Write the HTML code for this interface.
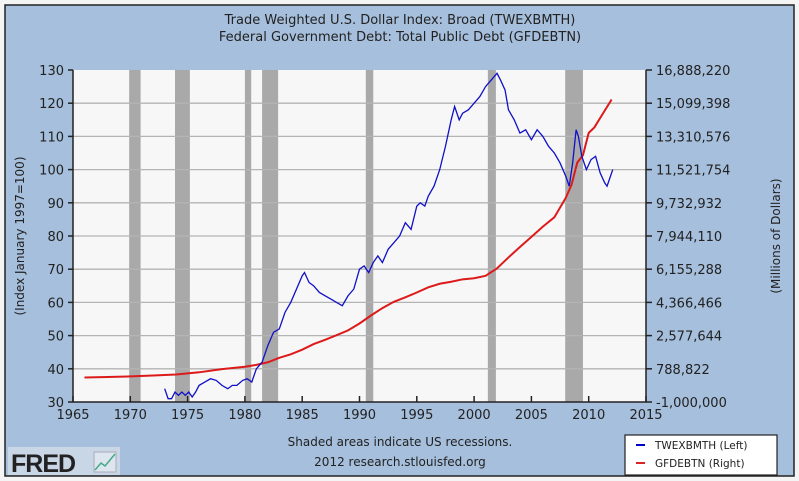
<!DOCTYPE html>
<html><head><meta charset="utf-8"><style>
body{margin:0;background:#fff;}
svg{display:block;font-family:"DejaVu Sans","Liberation Sans",sans-serif;}
</style></head><body>
<svg id="c" width="799" height="481" xmlns="http://www.w3.org/2000/svg">
<rect x="0" y="0" width="799" height="481" fill="#f4f4f4"/>
<rect x="5" y="5" width="789" height="471" fill="#a6bfdc" stroke="#222" stroke-width="1.5"/>
<text x="400" y="24" text-anchor="middle" font-size="13" fill="#222">Trade Weighted U.S. Dollar Index: Broad (TWEXBMTH)</text>
<text x="400" y="41" text-anchor="middle" font-size="13" fill="#222">Federal Government Debt: Total Public Debt (GFDEBTN)</text>
<rect x="73" y="70" width="573" height="332" fill="#f7f7f7"/>
<g id="rec"></g><g id="grid"></g><g id="axes"></g><g id="series"></g>
<text transform="translate(24,236) rotate(-90)" text-anchor="middle" font-size="12" fill="#222">(Index January 1997=100)</text>
<text transform="translate(780,236) rotate(-90)" text-anchor="middle" font-size="12" fill="#222">(Millions of Dollars)</text>
<text x="400" y="446" text-anchor="middle" font-size="12" fill="#222">Shaded areas indicate US recessions.</text>
<text x="400" y="466" text-anchor="middle" font-size="12" fill="#222">2012 research.stlouisfed.org</text>
<g>
<rect x="8" y="447" width="112" height="28" fill="#c8d6e6"/>
<text x="11" y="472" font-size="25" font-weight="bold" fill="#222" font-family="Liberation Sans,sans-serif" letter-spacing="-1">FRED</text>
<rect x="94" y="452" width="22" height="20" fill="#dde6ee" stroke="#aab"/>
<polyline points="95,470 101,463 105,466 115,454" fill="none" stroke="#4a8" stroke-width="1.5"/>
</g>
<g>
<rect x="625" y="435" width="152" height="40" fill="#fff" stroke="#222" stroke-width="1.2"/>
<line x1="636" y1="445" x2="645" y2="445" stroke="#00c" stroke-width="2"/>
<text x="655" y="449" font-size="10.5" fill="#222">TWEXBMTH (Left)</text>
<line x1="636" y1="463" x2="645" y2="463" stroke="#d22" stroke-width="2"/>
<text x="655" y="467" font-size="10.5" fill="#222">GFDEBTN (Right)</text>
</g>
</svg>
<script>
const recStarts=[1969.9,1973.9,1980.0,1981.5,1990.55,2001.2,2007.95];
const recEnds=[1970.9,1975.2,1980.55,1982.9,1991.2,2001.9,2009.5];
const leftTicks=[30,40,50,60,70,80,90,100,110,120,130];
const rightTickLabels=["-1,000,000","788,822","2,577,644","4,366,466","6,155,288","7,944,110","9,732,932","11,521,754","13,310,576","15,099,398","16,888,220"];
const xTicks=[1965,1970,1975,1980,1985,1990,1995,2000,2005,2010,2015];
const twexYears=[1973,1973.3,1973.6,1973.9,1974.2,1974.5,1974.8,1975.1,1975.4,1975.7,1976,1976.5,1977,1977.5,1978,1978.5,1978.9,1979.3,1979.8,1980.2,1980.6,1981,1981.5,1982,1982.5,1983,1983.5,1984,1984.5,1985,1985.2,1985.6,1986,1986.5,1987,1987.5,1988,1988.5,1989,1989.5,1990,1990.4,1990.8,1991.2,1991.6,1992,1992.5,1993,1993.5,1994,1994.5,1995,1995.3,1995.7,1996,1996.5,1997,1997.5,1998,1998.3,1998.7,1999,1999.5,2000,2000.5,2001,2001.5,2002,2002.3,2002.7,2003,2003.5,2004,2004.5,2005,2005.5,2006,2006.5,2007,2007.5,2008,2008.3,2008.6,2008.9,2009.1,2009.4,2009.8,2010.2,2010.6,2011,2011.4,2011.6,2011.9,2012.1];
const twexValues=[34,31,31,33,32,33,32,33,31.5,33,35,36,37,36.5,35,34,35,35,36.5,37,36,40,42,47,51,52,57,60,64,68,69,66,65,63,62,61,60,59,62,64,70,71,69,72,74,72,76,78,80,84,82,89,90,89,92,95,100,107,115,119,115,117,118,120,122,125,127,129,127,124,118,115,111,112,109,112,110,107,105,102,98,95,102,112,110,104,100,103,104,99,96,95,98,100];
const debtYears=[1966,1968,1970,1972,1974,1976,1978,1980,1981,1982,1983,1984,1985,1986,1987,1988,1989,1990,1991,1992,1993,1994,1995,1996,1997,1998,1999,2000,2001,2002,2003,2004,2005,2006,2007,2008,2008.5,2009,2009.5,2010,2010.5,2011,2011.5,2012];
const debtValues=[320000,350000,380000,430000,480000,600000,770000,900000,1000000,1140000,1380000,1570000,1820000,2120000,2350000,2600000,2860000,3230000,3660000,4060000,4400000,4640000,4900000,5180000,5370000,5480000,5610000,5670000,5800000,6200000,6790000,7350000,7900000,8450000,8950000,10000000,10700000,11900000,12300000,13500000,13800000,14300000,14800000,15300000];
const NS="http://www.w3.org/2000/svg";
const X0=73,X1=646,Y0=402,Y1=70;
const xs=y=>X0+(y-1965)/50*(X1-X0);
const yl=v=>Y0-(v-30)/100*(Y0-Y1);
const yr=v=>Y0-(v+1000000)/17888220*(Y0-Y1);
function mk(tag,attrs,parent){const e=document.createElementNS(NS,tag);for(const k in attrs)e.setAttribute(k,attrs[k]);document.getElementById(parent).appendChild(e);return e;}
recStarts.forEach((s,i)=>{const r=mk('rect',{x:xs(s),y:Y1,width:xs(recEnds[i])-xs(s),height:Y0-Y1,fill:'#a9a9a9'},'rec');

});
leftTicks.forEach((v,i)=>{const y=yl(v);
if(i>0&&i<leftTicks.length-1){const g=mk('line',{x1:X0,x2:X1,y1:y,y2:y,stroke:'#b4b4b4','stroke-width':1.3},'grid');

}
mk('line',{x1:X0-5,x2:X0,y1:y,y2:y,stroke:'#222','stroke-width':1.5},'axes');
mk('line',{x1:X1,x2:X1+6,y1:y,y2:y,stroke:'#222','stroke-width':1.5},'axes');
const t=mk('text',{x:X0-9,y:y+5,'text-anchor':'end','font-size':13,fill:'#222'},'axes');t.textContent=v;


const t2=mk('text',{x:X1+10,y:y+5,'font-size':13,fill:'#222'},'axes');t2.textContent=rightTickLabels[i];

});
xTicks.forEach(v=>{const x=xs(v);
mk('line',{x1:x,x2:x,y1:Y0,y2:Y0-6,stroke:'#222','stroke-width':1.5},'axes');
const t=mk('text',{x:x,y:Y0+17,'text-anchor':'middle','font-size':13,fill:'#222'},'axes');t.textContent=v;

});
mk('line',{x1:X0,x2:X0,y1:Y1,y2:Y0,stroke:'#222','stroke-width':1.5},'axes');
mk('line',{x1:X1,x2:X1,y1:Y1,y2:Y0,stroke:'#222','stroke-width':1.5},'axes');
mk('line',{x1:X0,x2:X1,y1:Y0,y2:Y0,stroke:'#222','stroke-width':1.5},'axes');
const dp=mk('polyline',{points:debtYears.map((y,i)=>xs(y)+','+yr(debtValues[i])).join(' '),fill:'none',stroke:'#dd1a1a','stroke-width':2},'series');


const tp=mk('polyline',{points:twexYears.map((y,i)=>xs(y)+','+yl(twexValues[i])).join(' '),fill:'none',stroke:'#1010c8','stroke-width':1.3},'series');


</script>
</body></html>
